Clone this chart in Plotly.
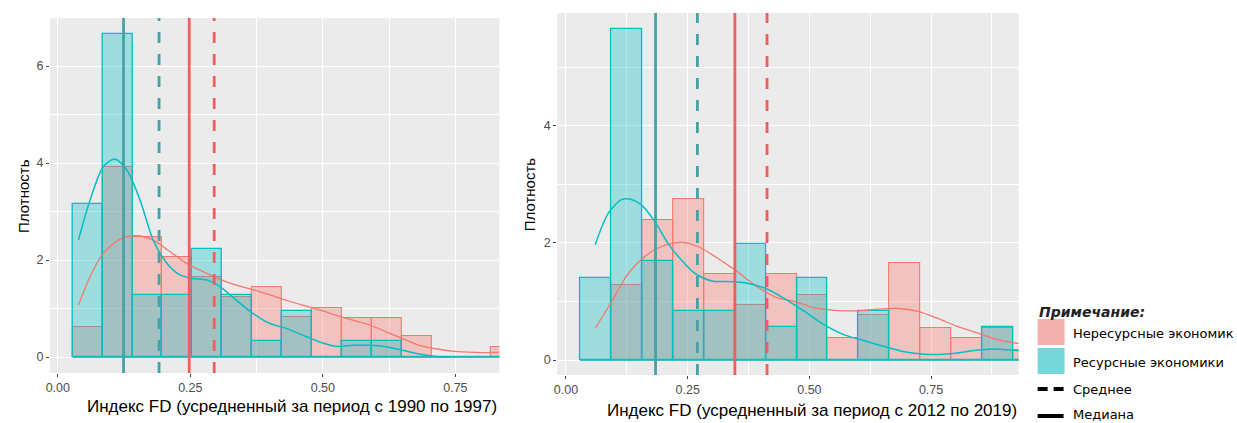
import plotly.graph_objects as go

# ---------------- data ----------------
# Panel 1 (1990-1997)
edges1 = [0.028, 0.0844, 0.1408, 0.1972, 0.2536, 0.31, 0.3664, 0.4228, 0.4792,
          0.5356, 0.592, 0.6484, 0.7048, 0.7612, 0.8176, 0.874]
nonres1 = [0.61, 3.91, 2.48, 2.07, 1.65, 1.24, 1.45, 0.83, 1.02, 0.81, 0.81, 0.43, 0.0, 0.0, 0.20]
res1 = [3.16, 6.67, 1.28, 1.28, 2.22, 1.28, 0.33, 0.95, 0.0, 0.33, 0.33, 0.0, 0.0, 0.0, 0.0]

kde_res1_x = [0.039, 0.061, 0.086, 0.108, 0.130, 0.155, 0.180, 0.206, 0.231, 0.256, 0.281, 0.306,
              0.337, 0.368, 0.400, 0.431, 0.462, 0.494, 0.525, 0.556, 0.588, 0.619, 0.650, 0.682,
              0.713, 0.732, 0.74]
kde_res1_y = [2.41, 3.24, 3.93, 4.08, 3.86, 3.24, 2.41, 1.93, 1.69, 1.62, 1.59, 1.45,
              1.17, 0.90, 0.69, 0.59, 0.45, 0.31, 0.22, 0.24, 0.24, 0.21, 0.14, 0.06,
              0.01, 0.0, 0.0]
kde_non1_x = [0.039, 0.061, 0.086, 0.118, 0.149, 0.180, 0.212, 0.243, 0.274, 0.306, 0.337, 0.368,
              0.400, 0.431, 0.462, 0.494, 0.525, 0.556, 0.588, 0.619, 0.650, 0.682, 0.713, 0.744,
              0.776, 0.807, 0.833]
kde_non1_y = [1.07, 1.66, 2.14, 2.43, 2.50, 2.41, 2.17, 1.93, 1.76, 1.60, 1.48, 1.39,
              1.28, 1.17, 1.07, 0.97, 0.86, 0.76, 0.66, 0.52, 0.38, 0.24, 0.17, 0.12,
              0.10, 0.09, 0.10]
res1_median, res1_mean = 0.124, 0.191
non1_median, non1_mean = 0.248, 0.295

# Panel 2 (2012-2019)
edges2 = [0.0288, 0.0924, 0.156, 0.2196, 0.2832, 0.3468, 0.4104, 0.474, 0.5376,
          0.6012, 0.6648, 0.7284, 0.792, 0.8556, 0.9192, 0.9828]
nonres2 = [0.0, 1.29, 2.39, 2.75, 1.47, 0.94, 1.47, 1.11, 0.37, 0.77, 1.65, 0.55, 0.37, 0.54, 0.17]
res2 = [1.41, 5.65, 1.70, 0.84, 0.84, 1.98, 0.56, 1.41, 0.0, 0.84, 0.0, 0.0, 0.0, 0.56, 0.0]

kde_res2_x = [0.060, 0.087, 0.114, 0.131, 0.155, 0.183, 0.210, 0.237, 0.265, 0.299, 0.333, 0.367,
              0.408, 0.449, 0.490, 0.531, 0.572, 0.613, 0.654, 0.695, 0.736, 0.777, 0.812, 0.846,
              0.880, 0.930]
kde_res2_y = [1.97, 2.51, 2.74, 2.75, 2.65, 2.36, 1.99, 1.71, 1.48, 1.35, 1.34, 1.32,
              1.23, 1.05, 0.83, 0.60, 0.43, 0.33, 0.23, 0.14, 0.10, 0.10, 0.13, 0.17,
              0.19, 0.16]
kde_non2_x = [0.060, 0.094, 0.128, 0.162, 0.196, 0.237, 0.271, 0.306, 0.347, 0.388, 0.429, 0.470,
              0.511, 0.552, 0.599, 0.641, 0.682, 0.723, 0.764, 0.805, 0.846, 0.887, 0.930]
kde_non2_y = [0.54, 1.00, 1.48, 1.77, 1.94, 2.01, 1.94, 1.77, 1.54, 1.28, 1.08, 1.00,
              0.89, 0.85, 0.84, 0.87, 0.88, 0.83, 0.71, 0.57, 0.46, 0.35, 0.28]
res2_median, res2_mean = 0.184, 0.270
non2_median, non2_mean = 0.347, 0.413

x_title1 = "Индекс FD (усредненный за период с 1990 по 1997)"
x_title2 = "Индекс FD (усредненный за период с 2012 по 2019)"
y_title = "Плотность"
legend_title = "Примечание:"
legend_labels = ["Нересурсные экономик", "Ресурсные экономики", "Среднее", "Медиана"]

# ---------------- style ----------------
W, H = 1237, 423
RED = "#F8766D"
TEAL = "#00BFC4"
RED_FILL = "rgba(248,118,109,0.34)"
TEAL_FILL = "rgba(0,191,196,0.32)"
RED_LINE = "#F05F5F"
TEAL_LINE = "#45A3A5"
FONT = "Liberation Sans, Arial, sans-serif"
LFONT = "DejaVu Sans, Verdana, sans-serif"

def px_x(p):
    return p / W

def px_y(p):
    return 1 - p / H

fig = go.Figure()

def add_panel(edges, nonres, res, kdx_r, kdy_r, kdx_n, kdy_n, xa, ya):
    centers = [(edges[i] + edges[i + 1]) / 2 for i in range(len(edges) - 1)]
    widths = [edges[i + 1] - edges[i] for i in range(len(edges) - 1)]
    fig.add_trace(go.Scatter(x=[edges[0], edges[-1]], y=[0, 0], mode="lines",
                             line=dict(color=RED, width=1), xaxis=xa, yaxis=ya,
                             showlegend=False, hoverinfo="skip"))
    fig.add_trace(go.Bar(x=centers, y=nonres, width=widths, marker=dict(
        color=RED_FILL, line=dict(color=RED, width=1.1)), xaxis=xa, yaxis=ya,
        showlegend=False))
    fig.add_trace(go.Bar(x=centers, y=res, width=widths, marker=dict(
        color=TEAL_FILL, line=dict(color=TEAL, width=1.3)), xaxis=xa, yaxis=ya,
        showlegend=False))
    fig.add_trace(go.Scatter(x=[edges[0], edges[-1]], y=[0, 0], mode="lines",
                             line=dict(color=TEAL, width=1.3), xaxis=xa, yaxis=ya,
                             showlegend=False, hoverinfo="skip"))
    fig.add_trace(go.Scatter(x=kdx_n, y=kdy_n, mode="lines", line=dict(color=RED, width=1.3, shape="spline", smoothing=0.8),
                             xaxis=xa, yaxis=ya, showlegend=False))
    fig.add_trace(go.Scatter(x=kdx_r, y=kdy_r, mode="lines", line=dict(color=TEAL, width=1.5, shape="spline", smoothing=0.8),
                             xaxis=xa, yaxis=ya, showlegend=False))

add_panel(edges1, nonres1, res1, kde_res1_x, kde_res1_y, kde_non1_x, kde_non1_y, "x", "y")
add_panel(edges2, nonres2, res2, kde_res2_x, kde_res2_y, kde_non2_x, kde_non2_y, "x2", "y2")

shapes = []
def vline(xv, xref, yref, color, dash):
    shapes.append(dict(type="line", xref=xref, yref=yref + " domain", x0=xv, x1=xv, y0=0, y1=1,
                       line=dict(color=color, width=2.8, dash=dash), layer="above"))

vline(res1_median, "x", "y", TEAL_LINE, "solid")
vline(res1_mean, "x", "y", TEAL_LINE, "11px,11px")
vline(non1_median, "x", "y", RED_LINE, "solid")
vline(non1_mean, "x", "y", RED_LINE, "11px,11px")
vline(res2_median, "x2", "y2", TEAL_LINE, "solid")
vline(res2_mean, "x2", "y2", TEAL_LINE, "11px,11px")
vline(non2_median, "x2", "y2", RED_LINE, "solid")
vline(non2_mean, "x2", "y2", RED_LINE, "11px,11px")

# legend shapes (paper coords)
shapes.append(dict(type="rect", xref="paper", yref="paper", x0=px_x(1037), x1=px_x(1064),
                   y0=px_y(345), y1=px_y(319), fillcolor="#F2B0AC", line=dict(width=0)))
shapes.append(dict(type="rect", xref="paper", yref="paper", x0=px_x(1037), x1=px_x(1064),
                   y0=px_y(374), y1=px_y(348), fillcolor="#74D8DA", line=dict(width=0)))
shapes.append(dict(type="line", xref="paper", yref="paper", x0=px_x(1037), x1=px_x(1047),
                   y0=px_y(389), y1=px_y(389), line=dict(color="black", width=4)))
shapes.append(dict(type="line", xref="paper", yref="paper", x0=px_x(1053), x1=px_x(1063),
                   y0=px_y(389), y1=px_y(389), line=dict(color="black", width=4)))
shapes.append(dict(type="line", xref="paper", yref="paper", x0=px_x(1037), x1=px_x(1063),
                   y0=px_y(416), y1=px_y(416), line=dict(color="black", width=4)))

annotations = [
    dict(text=x_title1, xref="paper", yref="paper", x=px_x(497), y=px_y(406), xanchor="right",
         yanchor="middle", showarrow=False, font=dict(family=FONT, size=17, color="black")),
    dict(text=x_title2, xref="paper", yref="paper", x=px_x(1018), y=px_y(410), xanchor="right",
         yanchor="middle", showarrow=False, font=dict(family=FONT, size=17, color="black")),
    dict(text=y_title, xref="paper", yref="paper", x=px_x(19), y=px_y(196), textangle=-90,
         xanchor="center", yanchor="middle", showarrow=False, font=dict(family=FONT, size=15, color="black")),
    dict(text=y_title, xref="paper", yref="paper", x=px_x(527), y=px_y(194), textangle=-90,
         xanchor="center", yanchor="middle", showarrow=False, font=dict(family=FONT, size=15, color="black")),
    dict(text="<b><i>" + legend_title + "</i></b>", xref="paper", yref="paper", x=px_x(1036), y=px_y(312),
         xanchor="left", yanchor="middle", showarrow=False, font=dict(family=LFONT, size=14, color="#222")),
]
for lbl, py in zip(legend_labels, [333, 362, 389, 414]):
    annotations.append(dict(text=lbl, xref="paper", yref="paper", x=px_x(1071), y=px_y(py),
                            xanchor="left", yanchor="middle", showarrow=False, borderpad=0,
                            font=dict(family=LFONT, size=13, color="black")))

axis_common = dict(showgrid=True, gridcolor="white", gridwidth=1.2, zeroline=False,
                   ticks="outside", ticklen=3, tickcolor="#444", tickwidth=1,
                   tickfont=dict(family=FONT, size=12.5, color="#4D4D4D"), showline=False)

fig.update_layout(
    width=W, height=H, margin=dict(l=0, r=0, t=0, b=0),
    paper_bgcolor="white", plot_bgcolor="#EBEBEB", barmode="overlay", bargap=0,
    showlegend=False,
    xaxis=dict(domain=[px_x(46), px_x(497)], range=[-0.015, 0.833], tickvals=[0, 0.25, 0.5, 0.75],
               tickformat=".2f", minor=dict(tickvals=[0.125, 0.375, 0.625], showgrid=True,
                                            gridcolor="white", gridwidth=0.5, ticks=""),
               anchor="y", **axis_common),
    yaxis=dict(domain=[px_y(373), px_y(18)], range=[-0.33, 6.99], tickvals=[0, 2, 4, 6],
               minor=dict(tickvals=[1, 3, 5], showgrid=True, gridcolor="white", gridwidth=0.5, ticks=""),
               anchor="x", **axis_common),
    xaxis2=dict(domain=[px_x(555), px_x(1018)], range=[-0.018, 0.930], tickvals=[0, 0.25, 0.5, 0.75],
                tickformat=".2f", minor=dict(tickvals=[0.125, 0.375, 0.625, 0.875], showgrid=True,
                                             gridcolor="white", gridwidth=0.5, ticks=""),
                anchor="y2", **axis_common),
    yaxis2=dict(domain=[px_y(375), px_y(13)], range=[-0.256, 5.93], tickvals=[0, 2, 4],
                minor=dict(tickvals=[1, 3, 5], showgrid=True, gridcolor="white", gridwidth=0.5, ticks=""),
                anchor="x2", **axis_common),
    shapes=shapes, annotations=annotations,
)

fig.write_html("out.html", config={"displayModeBar": False},
               post_script="document.body.style.margin='0px';document.body.style.overflow='hidden';")
